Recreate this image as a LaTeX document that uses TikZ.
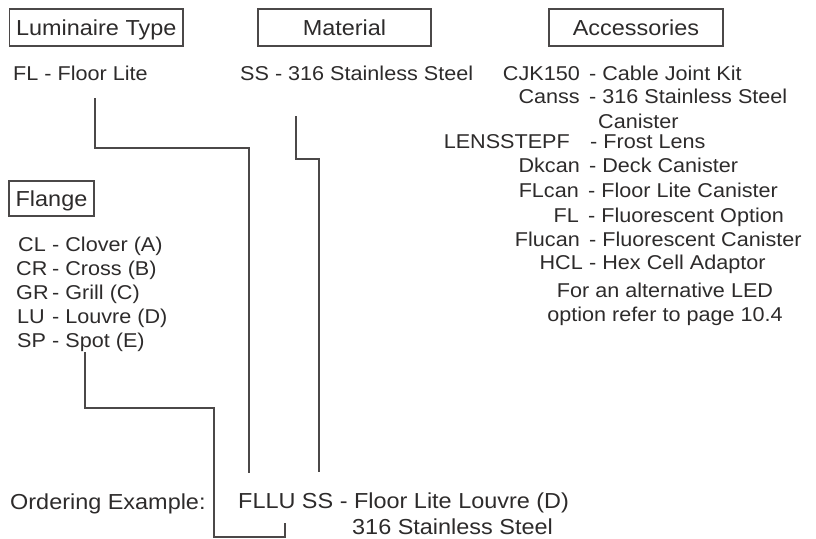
\documentclass[tikz,border=0pt]{standalone}
\usepackage{fontspec}
\setmainfont{Liberation Sans}[FakeStretch=1.08]
\definecolor{ink}{RGB}{45,43,43}
\definecolor{wire}{RGB}{75,72,72}
\begin{document}
\begin{tikzpicture}[x=1pt,y=-1pt,
  box/.style={draw=wire,line width=1.2pt,inner sep=0pt,minimum height=37pt,
    text height=15pt,text depth=0pt,font=\fontsize{21.7}{24}\selectfont,text=ink},
  sm/.style={inner sep=0pt,font=\fontsize{20}{22}\selectfont,text=ink},
  lg/.style={inner sep=0pt,font=\fontsize{21.7}{24}\selectfont,text=ink},
  conn/.style={draw=wire,line width=1.2pt}]
\useasboundingbox (0,0) rectangle (816,538);
% title boxes
\node[box,minimum width=173.5pt] (lt) at (96.25,27.5) {Luminaire Type};
\node[box,minimum width=173pt] (mat) at (344.5,27.5) {Material};
\node[box,minimum width=174pt] (acc) at (636,27.5) {Accessories};
\node[box,minimum width=85pt,minimum height=35pt] (fla) at (51.5,198.5) {Flange};
% options
\node[sm,anchor=base west] (lumopt) at (13,80) {FL - Floor Lite};
\node[sm,anchor=base west] (matopt) at (240,80) {SS - 316 Stainless Steel};
% accessories
\node[sm,anchor=base east] (a1) at (580,80) {CJK150};
\node[sm,anchor=base west] (a1d) at (589,80) {- Cable Joint Kit};
\node[sm,anchor=base east] (a2) at (580,103) {Canss};
\node[sm,anchor=base west] (a2d) at (589,103) {- 316 Stainless Steel};
\node[sm,anchor=base west] (a2e) at (598,128) {Canister};
\node[sm,anchor=base east] (a3) at (570,148) {LENSSTEPF};
\node[sm,anchor=base west] (a3d) at (590,148) {- Frost Lens};
\node[sm,anchor=base east] (a4) at (580,172) {Dkcan};
\node[sm,anchor=base west] (a4d) at (589,172) {- Deck Canister};
\node[sm,anchor=base east] (a5) at (579,197) {FLcan};
\node[sm,anchor=base west] (a5d) at (588,197) {- Floor Lite Canister};
\node[sm,anchor=base east] (a6) at (579,222) {FL};
\node[sm,anchor=base west] (a6d) at (588,222) {- Fluorescent Option};
\node[sm,anchor=base east] (a7) at (580,246) {Flucan};
\node[sm,anchor=base west] (a7d) at (589,246) {- Fluorescent Canister};
\node[sm,anchor=base east] (a8) at (583,269) {HCL};
\node[sm,anchor=base west] (a8d) at (589,269) {- Hex Cell Adaptor};
\node[sm,anchor=base] (n1) at (665,297) {For an alternative LED};
\node[sm,anchor=base] (n2) at (665,321) {option refer to page 10.4};
% flange list
\node[sm,anchor=base west] (f1) at (18,251) {CL};
\node[sm,anchor=base west] (f1d) at (52,251) {- Clover (A)};
\node[sm,anchor=base west] (f2) at (16,275) {CR};
\node[sm,anchor=base west] (f2d) at (52,275) {- Cross (B)};
\node[sm,anchor=base west] (f3) at (16,299) {GR};
\node[sm,anchor=base west] (f3d) at (52,299) {- Grill (C)};
\node[sm,anchor=base west] (f4) at (17,323) {LU};
\node[sm,anchor=base west] (f4d) at (52,323) {- Louvre (D)};
\node[sm,anchor=base west] (f5) at (17,347) {SP};
\node[sm,anchor=base west] (f5d) at (52,347) {- Spot (E)};
% ordering example
\node[lg,anchor=base west] (oe) at (10,509) {Ordering Example:};
\node[lg,anchor=base west] (code) at (238,508) {FLLU SS - Floor Lite Louvre (D)};
\node[lg,anchor=base west] (code2) at (352,534.5) {316 Stainless Steel};
% connector end points
\coordinate (c1a) at (95,98);
\coordinate (c1b) at (249,148);
\coordinate (c1c) at (249,473);
\coordinate (c2a) at (296,116);
\coordinate (c2b) at (319,159);
\coordinate (c2c) at (319,472);
\coordinate (c3a) at (85,352);
\coordinate (c3b) at (214,408);
\coordinate (c3c) at (214,537);
\coordinate (c3d) at (285,537);
\coordinate (c3e) at (285,523);
\draw[conn] (c1a) |- (c1b) -- (c1c);
\draw[conn] (c2a) |- (c2b) -- (c2c);
\draw[conn] (c3a) |- (c3b) -- (c3c) -- (c3d) -- (c3e);
\end{tikzpicture}
\end{document}
